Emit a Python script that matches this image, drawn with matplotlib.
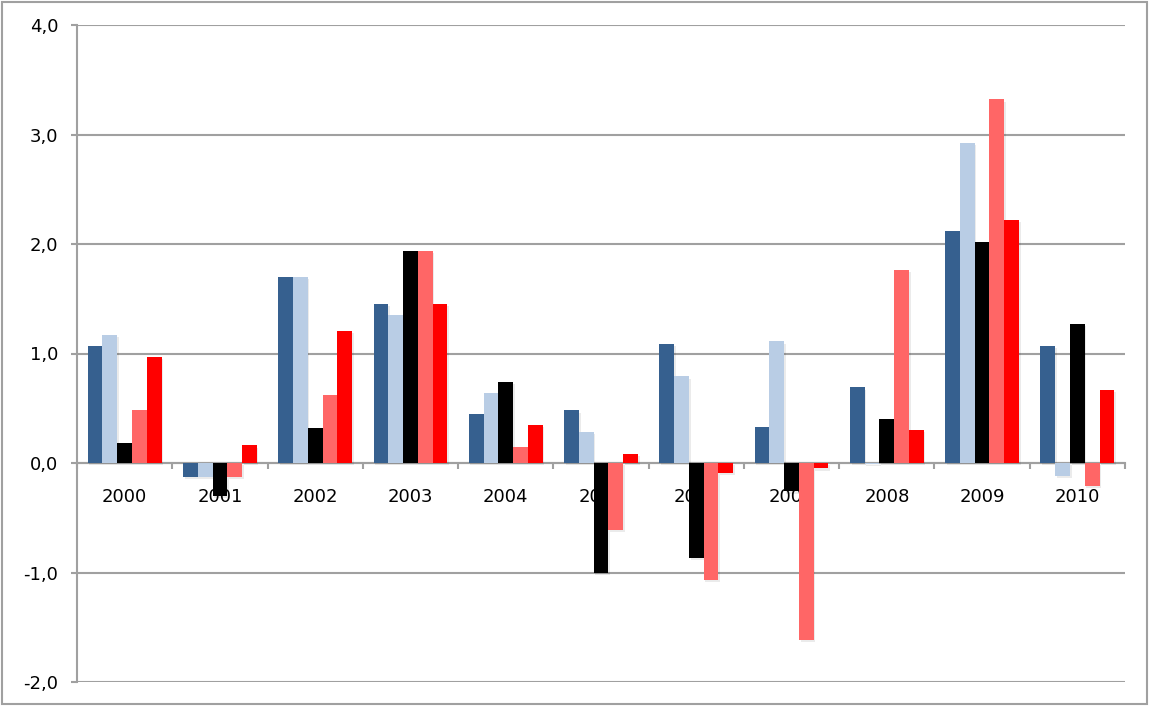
import matplotlib
matplotlib.use("Agg")
import matplotlib.pyplot as plt
import matplotlib.patheffects as pe
from matplotlib.patches import Rectangle
import numpy as np

years = ["2000", "2001", "2002", "2003", "2004", "2005", "2006", "2007", "2008", "2009", "2010"]
series_dark_blue = [1.07, -0.13, 1.70, 1.45, 0.45, 0.48, 1.09, 0.33, 0.69, 2.12, 1.07]
series_light_blue = [1.17, -0.13, 1.70, 1.35, 0.64, 0.28, 0.79, 1.11, -0.01, 2.92, -0.12]
series_black = [0.18, -0.30, 0.32, 1.94, 0.74, -1.00, -0.87, -0.26, 0.40, 2.02, 1.27]
series_salmon = [0.48, -0.13, 0.62, 1.94, 0.15, -0.61, -1.07, -1.62, 1.76, 3.32, -0.21]
series_red = [0.97, 0.16, 1.21, 1.45, 0.35, 0.08, -0.09, -0.05, 0.30, 2.22, 0.67]
y_ticks = [-2.0, -1.0, 0.0, 1.0, 2.0, 3.0, 4.0]

series = [series_dark_blue, series_light_blue, series_black, series_salmon, series_red]
colors = ["#36608F", "#B9CDE5", "#000000", "#FF6666", "#FF0000"]

fig = plt.figure(figsize=(11.49, 7.08), dpi=100)
ax = fig.add_axes([77 / 1149, 1 - 682 / 708, (1125 - 77) / 1149, (682 - 25) / 708])

grid_col = "#A0A0A0"
x = np.arange(len(years))
bw = 0.155
shadow = [pe.SimplePatchShadow(offset=(1.2, -1.5), shadow_rgbFace="black", alpha=0.08), pe.Normal()]
for k, (vals, c) in enumerate(zip(series, colors)):
    offs = (k - 2) * bw
    bars = ax.bar(x + offs, vals, width=bw, color=c, zorder=3, linewidth=0)
    for b in bars:
        b.set_path_effects(shadow)

ax.set_xlim(-0.5, len(years) - 0.5)
ax.set_ylim(-2, 4)
ax.set_yticks(y_ticks)
ax.set_yticklabels([f"{v:.1f}".replace(".", ",") for v in y_ticks], fontsize=13)
ax.yaxis.grid(True, color=grid_col, linewidth=1.5, zorder=0)
ax.set_axisbelow(True)

for s in ["top", "right"]:
    ax.spines[s].set_visible(False)
ax.spines["left"].set_color(grid_col)
ax.spines["left"].set_linewidth(1.5)
ax.spines["bottom"].set_position(("data", 0))
ax.spines["bottom"].set_color(grid_col)
ax.spines["bottom"].set_linewidth(1.5)
ax.spines["bottom"].set_zorder(2)

ax.set_xticks(np.arange(len(years) + 1) - 0.5)
ax.set_xticklabels([])
ax.tick_params(axis="x", direction="out", length=4, width=1.5, color=grid_col)
ax.tick_params(axis="y", direction="out", length=4.5, width=1.5, color=grid_col, pad=9)

for i, yr in enumerate(years):
    ax.annotate(yr, xy=(i, 0), xytext=(0, -34), textcoords="offset pixels",
                ha="center", va="center", fontsize=13, zorder=1, annotation_clip=False)

fig.patches.append(Rectangle((2 / 1149, 4 / 708), 1145 / 1149, 702 / 708,
                             transform=fig.transFigure, fill=False,
                             edgecolor="#A0A0A0", linewidth=1.5))

fig.savefig("out.png", dpi=100)
